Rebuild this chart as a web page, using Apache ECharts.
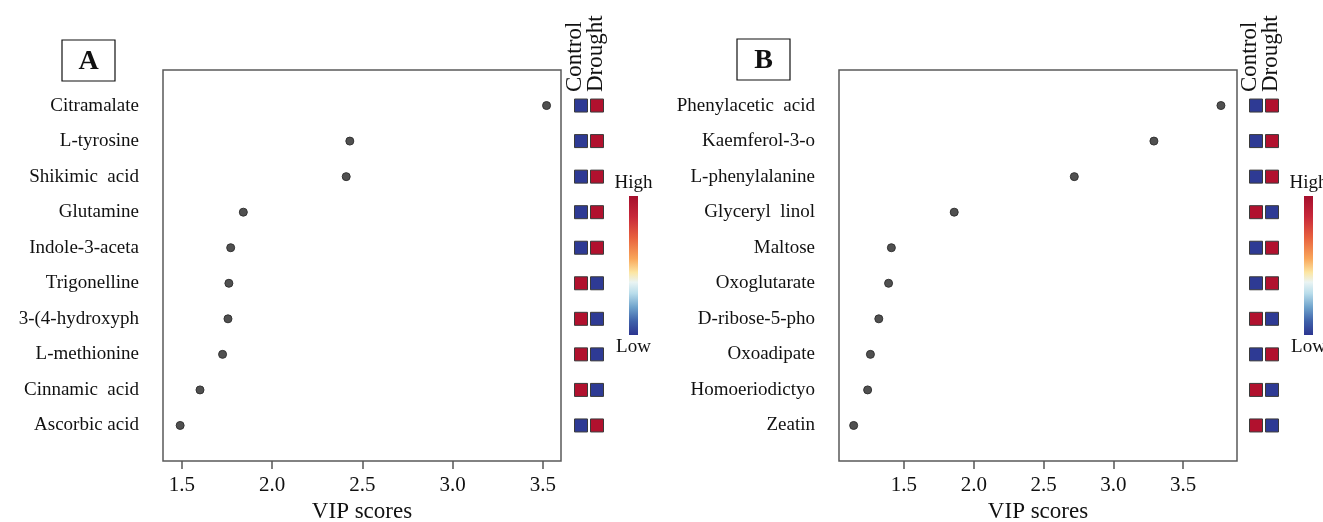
<!DOCTYPE html>
<html><head><meta charset="utf-8">
<script src="https://cdn.jsdelivr.net/npm/echarts@6/dist/echarts.min.js"></script>
<style>html,body{margin:0;padding:0;background:#fff}#c{width:1323px;height:522px}</style>
</head><body><div id="c"></div>
<script>
const namesA = ['Citramalate','L-tyrosine','Shikimic  acid','Glutamine','Indole-3-aceta','Trigonelline','3-(4-hydroxyph','L-methionine','Cinnamic  acid','Ascorbic acid'];
const vipA = [3.52, 2.43, 2.41, 1.84, 1.77, 1.76, 1.755, 1.725, 1.60, 1.49];
const controlA = [0,0,0,0,0,1,1,1,1,0];
const droughtA = [1,1,1,1,1,0,0,0,0,1];
const namesB = ['Phenylacetic  acid','Kaemferol-3-o','L-phenylalanine','Glyceryl  linol','Maltose','Oxoglutarate','D-ribose-5-pho','Oxoadipate','Homoeriodictyo','Zeatin'];
const vipB = [3.77, 3.29, 2.72, 1.86, 1.41, 1.39, 1.32, 1.26, 1.24, 1.14];
const controlB = [0,0,0,1,0,0,1,0,1,1];
const droughtB = [1,1,1,0,1,1,0,1,0,0];
const xTicks = [1.5, 2.0, 2.5, 3.0, 3.5];
const rowTicks = [1,2,3,4,5,6,7,8,9,10];
const groupLabels = ['Control','Drought'];
const legendLabels = ['High','Low'];

const FONT = "'Liberation Serif', 'DejaVu Serif', serif";
const BLUE = '#2E3A94', RED = '#B1112E';

function dotX(gi, min, max) {
  return {
    type: 'value', gridIndex: gi, min: min, max: max, position: 'bottom',
    axisLine: {show: false, onZero: false},
    axisTick: {show: true, length: 8, lineStyle: {color: '#555', width: 1.5}, customValues: xTicks},
    axisLabel: {customValues: xTicks, formatter: v => Number(v).toFixed(1), fontFamily: FONT, fontSize: 21, color: '#111', margin: 14},
    splitLine: {show: false},
    name: 'VIP scores', nameLocation: 'middle', nameGap: 38,
    nameTextStyle: {fontFamily: FONT, fontSize: 23, color: '#111'}
  };
}
function dotY(gi, names) {
  return {
    type: 'value', gridIndex: gi, min: 0, max: 11, inverse: true,
    axisLine: {show: false, onZero: false}, axisTick: {show: false}, splitLine: {show: false},
    axisLabel: {customValues: rowTicks, formatter: v => names[Math.round(v) - 1] || '', fontFamily: FONT, fontSize: 19, color: '#111', margin: 24}
  };
}
function hidX(gi) { return {type: 'value', gridIndex: gi, min: 0, max: 2, show: false}; }
function hidY(gi) { return {type: 'value', gridIndex: gi, min: 0, max: 11, inverse: true, show: false}; }

function squares(ctrl, dr) {
  return ctrl.map((c, i) => [0.5, i + 1, c]).concat(dr.map((d, i) => [1.5, i + 1, d]));
}
const dotStyle = {color: '#505050', borderColor: '#333', borderWidth: 1, opacity: 1};
const sqStyle = {color: p => p.value[2] ? RED : BLUE, borderColor: '#3a3a3a', borderWidth: 1, opacity: 1};

const grad = {type: 'linear', x: 0, y: 0, x2: 0, y2: 1, colorStops: [
  {offset: 0, color: '#A50F2D'}, {offset: 0.15, color: '#C8283A'}, {offset: 0.3, color: '#E8613E'},
  {offset: 0.45, color: '#F9A65A'}, {offset: 0.55, color: '#FCE6A3'}, {offset: 0.62, color: '#EAF4F3'},
  {offset: 0.7, color: '#B9DDEB'}, {offset: 0.8, color: '#6FA3CC'}, {offset: 0.9, color: '#3F62AA'},
  {offset: 1, color: '#2C3590'}]};

function panelGraphics(letter, bx, by, ctrlX, drX, barX) {
  return [
    {type: 'rect', shape: {x: bx, y: by, width: 53, height: 41}, style: {fill: '#fff', stroke: '#111', lineWidth: 1.2}},
    {type: 'text', x: bx + 26.5, y: by + 21.5, style: {text: letter, font: "bold 28px " + FONT, fill: '#111', align: 'center', verticalAlign: 'middle'}},
    {type: 'text', x: ctrlX, y: 92, rotation: Math.PI / 2, style: {text: groupLabels[0], font: "23px " + FONT, fill: '#111', align: 'left', verticalAlign: 'middle'}},
    {type: 'text', x: drX, y: 92, rotation: Math.PI / 2, style: {text: groupLabels[1], font: "23px " + FONT, fill: '#111', align: 'left', verticalAlign: 'middle'}},
    {type: 'rect', shape: {x: barX, y: 196, width: 9, height: 139}, style: {fill: grad}},
    {type: 'text', x: barX + 4.5, y: 183, style: {text: legendLabels[0], font: "19px " + FONT, fill: '#111', align: 'center', verticalAlign: 'middle'}},
    {type: 'text', x: barX + 4.5, y: 347, style: {text: legendLabels[1], font: "19px " + FONT, fill: '#111', align: 'center', verticalAlign: 'middle'}}
  ];
}

const chart = echarts.init(document.getElementById('c'), null, {renderer: 'canvas'});
const gbase = {outerBoundsMode: 'none', containLabel: false};
chart.setOption({
  backgroundColor: '#fff',
  animation: false,
  grid: [
    Object.assign({left: 163, top: 70, width: 398, height: 391, show: true, borderColor: '#5a5a5a', borderWidth: 1.5, backgroundColor: 'transparent'}, gbase),
    Object.assign({left: 573, top: 70, width: 32, height: 391}, gbase),
    Object.assign({left: 839, top: 70, width: 398, height: 391, show: true, borderColor: '#5a5a5a', borderWidth: 1.5, backgroundColor: 'transparent'}, gbase),
    Object.assign({left: 1248, top: 70, width: 32, height: 391}, gbase)
  ],
  xAxis: [dotX(0, 1.395, 3.60), hidX(1), dotX(2, 1.035, 3.885), hidX(3)],
  yAxis: [dotY(0, namesA), hidY(1), dotY(2, namesB), hidY(3)],
  series: [
    {type: 'scatter', xAxisIndex: 0, yAxisIndex: 0, symbolSize: 8, itemStyle: dotStyle, data: vipA.map((v, i) => [v, i + 1])},
    {type: 'scatter', xAxisIndex: 1, yAxisIndex: 1, symbol: 'rect', symbolSize: 13, itemStyle: sqStyle, data: squares(controlA, droughtA)},
    {type: 'scatter', xAxisIndex: 2, yAxisIndex: 2, symbolSize: 8, itemStyle: dotStyle, data: vipB.map((v, i) => [v, i + 1])},
    {type: 'scatter', xAxisIndex: 3, yAxisIndex: 3, symbol: 'rect', symbolSize: 13, itemStyle: sqStyle, data: squares(controlB, droughtB)}
  ],
  graphic: panelGraphics('A', 62, 40, 575, 596, 629).concat(panelGraphics('B', 737, 39, 1250, 1271, 1304))
});
</script></body></html>
